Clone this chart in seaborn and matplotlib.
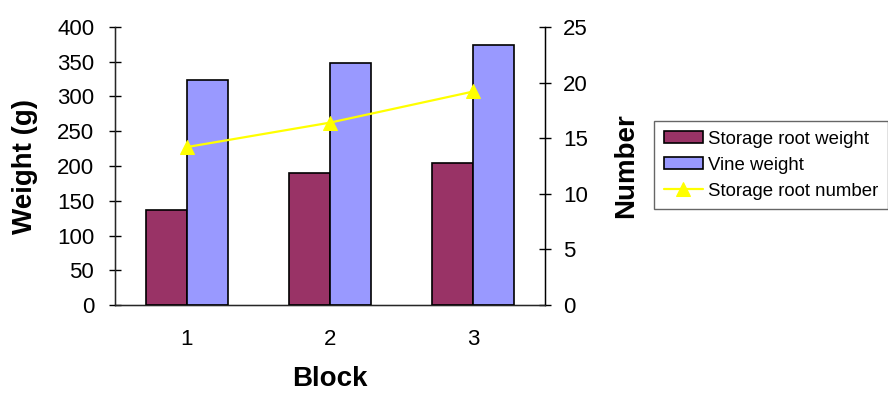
import matplotlib
matplotlib.use("Agg")
import matplotlib.pyplot as plt
import numpy as np
import pandas as pd
import seaborn as sns

# Data per block
blocks = ["1", "2", "3"]
storage_root_weight = [136, 190, 205]
vine_weight = [324, 348, 374]
storage_root_number = [14.2, 16.4, 19.2]

series_names = ["Storage root weight", "Vine weight"]
bar_colors = ["#993366", "#9999FF"]
line_color = "#FFFF00"

sns.set_style("white")
plt.rcParams["font.family"] = ["Liberation Sans", "DejaVu Sans"]
plt.rcParams["text.color"] = "black"
plt.rcParams["axes.labelcolor"] = "black"

df = pd.DataFrame({
    "Block": blocks * 2,
    "Weight": storage_root_weight + vine_weight,
    "Series": [series_names[0]] * len(blocks) + [series_names[1]] * len(blocks),
})

fig = plt.figure(figsize=(8.88, 3.94), dpi=100)
ax = fig.add_axes([115 / 888, (394 - 305) / 394, 430 / 888, 278 / 394])

sns.barplot(data=df, x="Block", y="Weight", hue="Series", order=blocks,
            hue_order=series_names, palette=bar_colors, width=0.572,
            gap=0, edgecolor="black", linewidth=1.2, saturation=1,
            errorbar=None, ax=ax, legend=True)

ax.set_xlim(-0.5, len(blocks) - 0.5)
ax.set_ylim(0, 400)
ax.set_yticks(np.arange(0, 401, 50))
ax.tick_params(axis="y", direction="inout", length=8, width=1, labelsize=16,
               pad=11, colors="black")
ax.tick_params(axis="x", which="major", length=0, labelsize=16, pad=17,
               colors="black")
ax.set_xticks(np.arange(0.5, len(blocks) - 0.5, 1), minor=True)
ax.tick_params(axis="x", which="minor", direction="inout", length=10, width=1,
               colors="black")
for s in ["left", "bottom", "right"]:
    ax.spines[s].set_visible(True)
    ax.spines[s].set_color("black")
    ax.spines[s].set_linewidth(1)
ax.spines["top"].set_visible(False)

ax.set_xlabel("Block", fontsize=20, fontweight="bold", va="center")
ax.xaxis.set_label_coords(0.5, (305 - 379) / 278)
ax.set_ylabel("Weight (g)", fontsize=20, fontweight="bold", va="center")
ax.yaxis.set_label_coords((25 - 115) / 430, 0.5)

ax2 = ax.twinx()
sns.lineplot(x=np.arange(len(blocks)), y=storage_root_number, ax=ax2,
             color=line_color, marker="^", markersize=9.5, linewidth=1.6,
             markeredgecolor=line_color, label="Storage root number", legend=False)
ax2.set_ylim(0, 25)
ax2.set_yticks(np.arange(0, 26, 5))
ax2.tick_params(axis="y", direction="inout", length=8, width=1, labelsize=16,
                pad=9, colors="black")
ax2.spines["top"].set_visible(False)
ax2.spines["right"].set_color("black")
ax2.set_ylabel("Number", fontsize=20, fontweight="bold", va="center")
ax2.yaxis.set_label_coords((626 - 115) / 430, 0.5)

# Combined legend to the right of the plot
h1, l1 = ax.get_legend_handles_labels()
h2, l2 = ax2.get_legend_handles_labels()
ax.get_legend().remove()
leg = fig.legend(h1 + h2, l1 + l2, loc="upper left",
                 bbox_to_anchor=(654 / 888, 1 - 121 / 394),
                 fontsize=13.4, frameon=True, fancybox=False, borderpad=0.52,
                 handlelength=2.1, handleheight=0.63, handletextpad=0.26,
                 labelspacing=0.48, borderaxespad=0)
leg.get_frame().set_edgecolor("#404040")
leg.get_frame().set_linewidth(1)

fig.savefig("out.png", dpi=100)
